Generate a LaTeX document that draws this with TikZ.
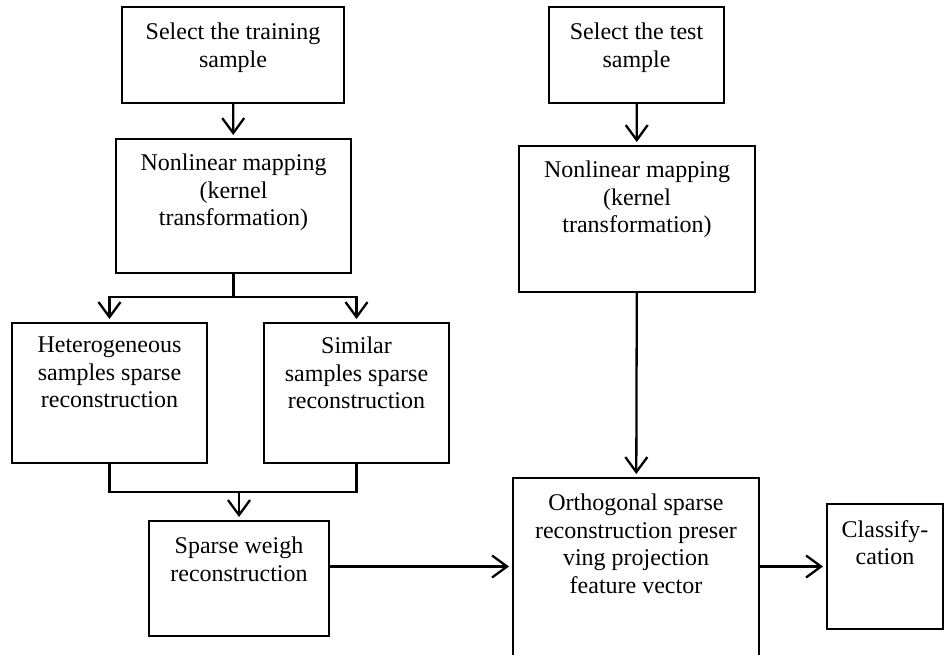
\documentclass[tikz,border=0pt]{standalone}
\usepackage{fontspec}
\setmainfont{Liberation Serif}
\usetikzlibrary{positioning,arrows.meta}
\begin{document}
\begin{tikzpicture}[
  x=1pt, y=-1pt,
  box/.style={rectangle, draw=black, line width=2pt, inner sep=0pt},
  txt/.style={align=center, inner sep=0pt, font=\fontsize{24}{27.5}\selectfont},
  link/.style={line width=2.3pt, draw=black},
  arr/.style={link, shorten >=3pt, -{Straight Barb[length=15pt, width=22pt]}}
]
  \clip (0,0) rectangle (945,654);

  % --- Training branch ---
  \node[box, minimum width=222pt, minimum height=96pt] (train) at (233,55) {};
  \node[txt, below=17pt of train.north] (trainT) {Select the training\\sample};

  \node[box, minimum width=235pt, minimum height=134pt] (mapA) at (233.5,206) {};
  \node[txt, below=16pt of mapA.north] (mapAT) {Nonlinear mapping\\(kernel\\transformation)};

  \node[box, minimum width=195pt, minimum height=140pt] (hetero) at (109.5,393) {};
  \node[txt, below=15pt of hetero.north] (heteroT) {Heterogeneous\\samples sparse\\reconstruction};

  \node[box, minimum width=185pt, minimum height=140pt] (simil) at (356.5,393) {};
  \node[txt, below=15pt of simil.north] (similT) {Similar\\samples sparse\\reconstruction};

  \node[box, minimum width=180pt, minimum height=115pt] (weigh) at (239,578.5) {};
  \node[txt, below=17pt of weigh.north] (weighT) {Sparse weigh\\reconstruction};

  % --- Test branch ---
  \node[box, minimum width=175pt, minimum height=96pt] (test) at (636.5,55) {};
  \node[txt, below=17pt of test.north] (testT) {Select the test\\sample};

  \node[box, minimum width=236pt, minimum height=146pt] (mapB) at (637,219) {};
  \node[txt, below=16pt of mapB.north] (mapBT) {Nonlinear mapping\\(kernel\\transformation)};

  \node[box, minimum width=246pt, minimum height=202pt] (ospp) at (636,579) {};
  \node[txt, below=17pt of ospp.north] (osppT) {Orthogonal sparse\\reconstruction preser\\ving projection\\feature vector};

  \node[box, minimum width=116pt, minimum height=125pt] (classify) at (885,566.5) {};
  \node[txt, below=17pt of classify.north] (classifyT) {Classify-\\cation};

  % --- Connectors ---
  \coordinate (split) at (233.5,297);
  \coordinate (merge) at (239,492);

  \draw[arr] (train) -- (mapA);
  \draw[arr] (mapA.south) -- (split) -| (hetero.north);
  \draw[arr] (split) -| (simil.north);
  \draw[link] (hetero.south) |- (merge);
  \draw[link] (simil.south) |- (merge);
  \draw[arr] (merge) -- (weigh.north);
  \draw[arr] (weigh.east |- classify) -- (ospp.west |- classify);

  \draw[arr] (test) -- (mapB);
  \draw[arr] (mapB) -- (ospp);
  \draw[arr] (ospp.east |- classify) -- (classify.west);

\end{tikzpicture}
\end{document}
